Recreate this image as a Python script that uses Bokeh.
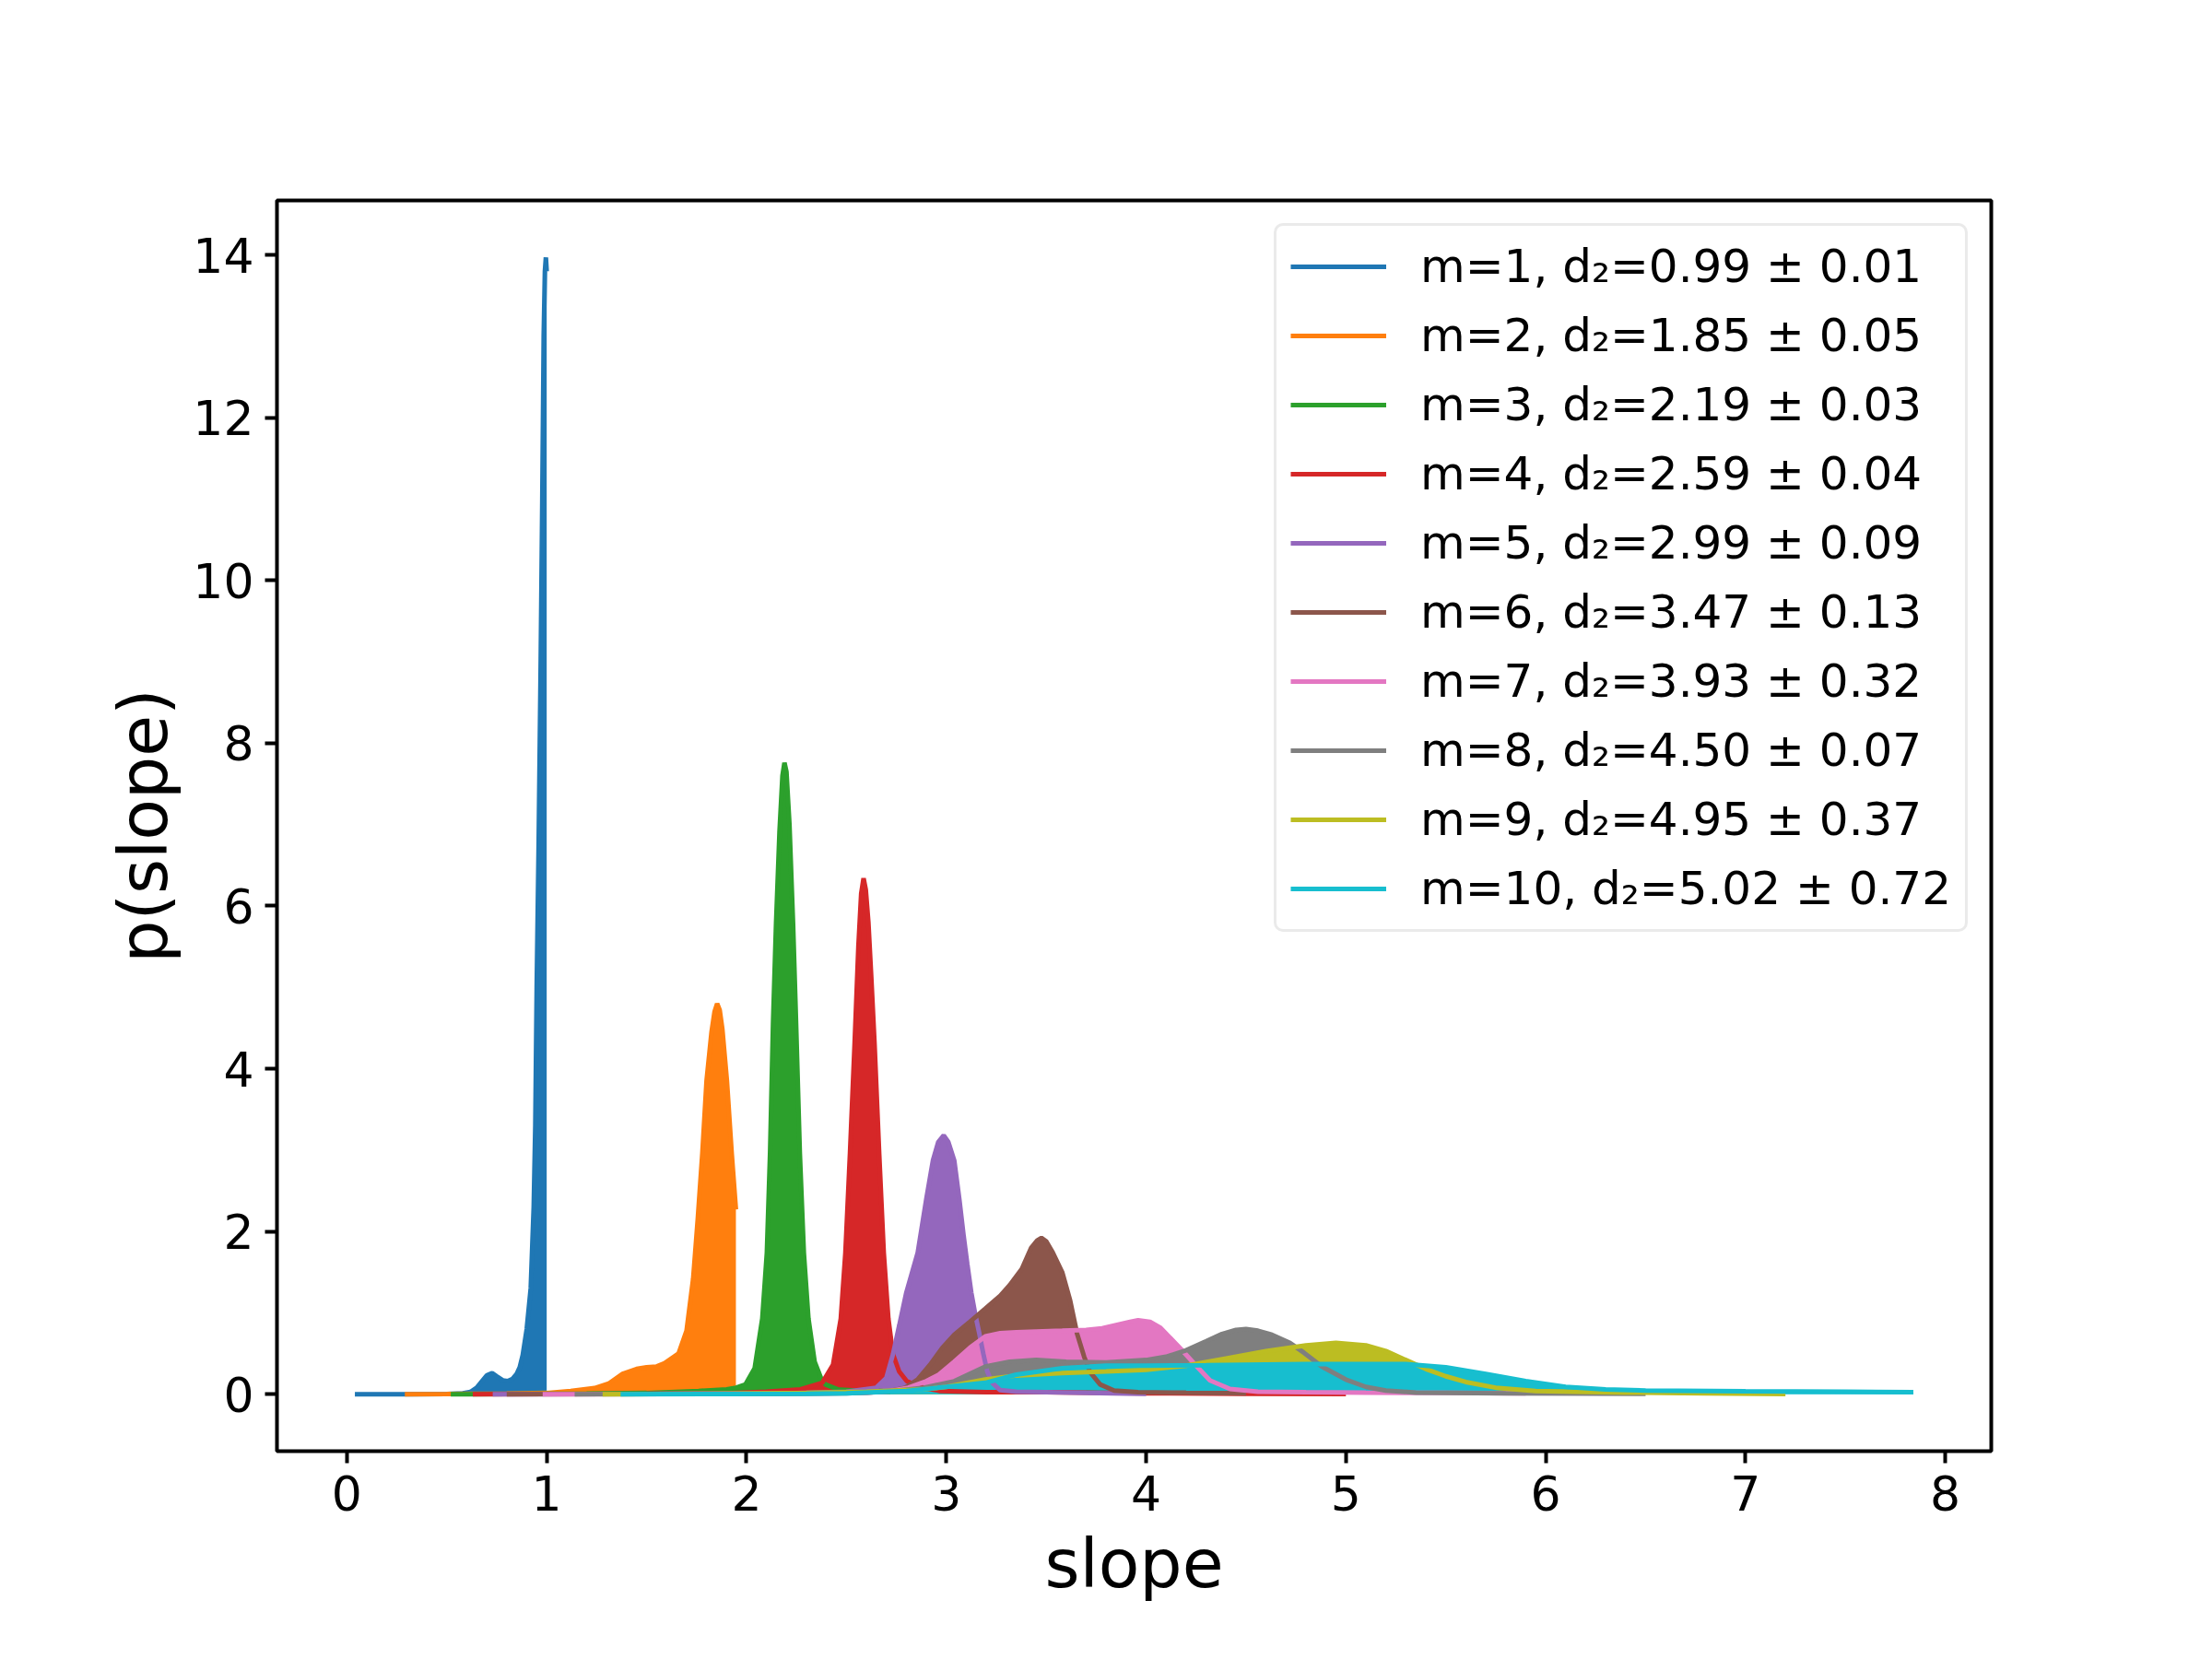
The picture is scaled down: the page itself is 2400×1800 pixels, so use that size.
from bokeh.plotting import figure
from bokeh.models import Range1d, FixedTicker
from bokeh.embed import file_html
from bokeh.resources import INLINE

# ---- data (slope, p(slope)) ----
x_m1 = [0.04, 0.30, 0.50, 0.58, 0.62, 0.65, 0.68, 0.70, 0.727, 0.75, 0.78, 0.805, 0.83, 0.85, 0.865, 0.88, 0.90, 0.92, 0.935, 0.943, 0.95, 0.96, 0.97, 0.978, 0.985, 0.991, 0.996, 1.0]
y_m1 = [0.0, 0.0, 0.002, 0.01, 0.03, 0.08, 0.17, 0.23, 0.26, 0.22, 0.17, 0.16, 0.19, 0.25, 0.33, 0.48, 0.8, 1.3, 2.3, 3.3, 5.0, 6.8, 9.0, 11.0, 13.0, 13.8, 13.97, 13.8]

x_m2 = [0.29, 0.50, 0.80, 1.00, 1.12, 1.24, 1.31, 1.38, 1.45, 1.50, 1.55, 1.59, 1.66, 1.70, 1.733, 1.756, 1.779, 1.80, 1.825, 1.84, 1.853, 1.866, 1.879, 1.902, 1.926, 1.947]
y_m2 = [0.0, 0.002, 0.008, 0.015, 0.04, 0.075, 0.13, 0.25, 0.31, 0.33, 0.34, 0.38, 0.5, 0.78, 1.42, 2.15, 2.96, 3.85, 4.45, 4.7, 4.80, 4.72, 4.49, 3.85, 2.96, 2.27]

x_m3 = [0.52, 0.80, 1.20, 1.50, 1.76, 1.90, 1.948, 1.995, 2.041, 2.079, 2.102, 2.118, 2.133, 2.148, 2.165, 2.18, 2.19, 2.20, 2.215, 2.233, 2.248, 2.267, 2.287, 2.31, 2.341, 2.379, 2.395, 2.456, 2.579, 2.67, 2.72]
y_m3 = [0.0, 0.002, 0.008, 0.015, 0.04, 0.06, 0.08, 0.12, 0.32, 0.93, 1.74, 2.96, 4.57, 5.79, 6.9, 7.6, 7.76, 7.65, 7.0, 5.79, 4.57, 2.96, 1.74, 0.93, 0.40, 0.16, 0.12, 0.06, 0.04, 0.04, 0.03]

x_m4 = [0.63, 1.00, 1.50, 1.90, 2.10, 2.27, 2.379, 2.433, 2.472, 2.495, 2.518, 2.541, 2.56, 2.574, 2.586, 2.597, 2.61, 2.625, 2.641, 2.664, 2.687, 2.71, 2.733, 2.764, 2.802, 2.84, 2.90, 2.97, 3.20, 3.50, 4.00, 4.50, 5.00]
y_m4 = [0.0, 0.002, 0.005, 0.01, 0.03, 0.06, 0.14, 0.36, 0.93, 1.74, 2.96, 4.3, 5.5, 6.15, 6.34, 6.2, 5.8, 5.1, 4.3, 2.96, 1.74, 0.93, 0.49, 0.28, 0.16, 0.12, 0.07, 0.04, 0.026, 0.025, 0.012, 0.006, 0.003]

x_m5 = [0.73, 1.2, 1.8, 2.2, 2.5, 2.65, 2.70, 2.733, 2.765, 2.80, 2.857, 2.90, 2.933, 2.96, 2.987, 3.01, 3.04, 3.065, 3.087, 3.105, 3.125, 3.145, 3.165, 3.185, 3.205, 3.23, 3.27, 3.35, 3.50, 3.70, 3.90, 4.00]
y_m5 = [0.0, 0.002, 0.005, 0.01, 0.03, 0.08, 0.2, 0.49, 0.85, 1.25, 1.74, 2.4, 2.87, 3.1, 3.18, 3.1, 2.87, 2.4, 1.94, 1.6, 1.25, 0.98, 0.75, 0.5, 0.28, 0.14, 0.05, 0.03, 0.025, 0.015, 0.008, 0.005]

x_m6 = [0.80, 1.3, 1.9, 2.3, 2.6, 2.72, 2.795, 2.856, 2.918, 2.98, 3.04, 3.118, 3.195, 3.27, 3.317, 3.378, 3.425, 3.455, 3.476, 3.50, 3.533, 3.58, 3.62, 3.655, 3.69, 3.72, 3.77, 3.84, 3.96, 4.20, 4.50]
y_m6 = [0.0, 0.002, 0.005, 0.01, 0.02, 0.04, 0.08, 0.18, 0.36, 0.57, 0.73, 0.89, 1.05, 1.21, 1.34, 1.54, 1.80, 1.89, 1.92, 1.88, 1.74, 1.50, 1.15, 0.74, 0.46, 0.27, 0.12, 0.045, 0.026, 0.018, 0.01]

x_m7 = [0.98, 1.5, 2.0, 2.4, 2.6, 2.72, 2.81, 2.90, 2.963, 3.04, 3.118, 3.195, 3.27, 3.35, 3.45, 3.58, 3.70, 3.78, 3.85, 3.92, 3.96, 4.02, 4.07, 4.11, 4.18, 4.25, 4.32, 4.42, 4.56, 4.80, 5.10, 5.50, 5.90]
y_m7 = [0.0, 0.002, 0.005, 0.01, 0.02, 0.04, 0.08, 0.16, 0.24, 0.40, 0.57, 0.71, 0.75, 0.76, 0.77, 0.78, 0.79, 0.81, 0.85, 0.89, 0.91, 0.89, 0.82, 0.72, 0.54, 0.35, 0.17, 0.065, 0.03, 0.025, 0.02, 0.015, 0.01]

x_m8 = [1.14, 1.6, 2.1, 2.5, 2.7, 2.887, 3.04, 3.195, 3.317, 3.45, 3.6, 3.8, 4.0, 4.1, 4.2, 4.3, 4.38, 4.45, 4.5, 4.56, 4.63, 4.72, 4.79, 4.88, 5.0, 5.1, 5.2, 5.35, 5.8, 6.2, 6.5]
y_m8 = [0.0, 0.002, 0.005, 0.01, 0.03, 0.08, 0.16, 0.34, 0.40, 0.42, 0.40, 0.39, 0.42, 0.46, 0.54, 0.65, 0.74, 0.79, 0.80, 0.78, 0.73, 0.63, 0.51, 0.34, 0.18, 0.09, 0.045, 0.02, 0.01, 0.007, 0.005]

x_m9 = [1.28, 1.8, 2.3, 2.6, 2.887, 3.0, 3.195, 3.35, 3.58, 3.8, 4.0, 4.2, 4.4, 4.6, 4.8, 4.95, 5.1, 5.2, 5.3, 5.4, 5.5, 5.6, 5.75, 5.95, 6.4, 6.8, 7.2]
y_m9 = [0.0, 0.005, 0.015, 0.03, 0.06, 0.09, 0.18, 0.23, 0.26, 0.28, 0.30, 0.35, 0.44, 0.53, 0.60, 0.63, 0.60, 0.53, 0.42, 0.31, 0.22, 0.15, 0.08, 0.04, 0.02, 0.01, 0.003]

x_m10 = [1.37, 1.9, 2.3, 2.5, 2.8, 3.0, 3.195, 3.35, 3.58, 3.8, 4.0, 4.3, 4.8, 5.3, 5.5, 5.7, 5.9, 6.1, 6.3, 6.5, 7.0, 7.5, 7.84]
y_m10 = [0.0, 0.003, 0.006, 0.01, 0.04, 0.09, 0.14, 0.24, 0.32, 0.35, 0.35, 0.355, 0.37, 0.37, 0.33, 0.25, 0.16, 0.09, 0.06, 0.045, 0.035, 0.03, 0.025]

labels = ["m=1, d\u2082=0.99 \u00b1 0.01", "m=2, d\u2082=1.85 \u00b1 0.05", "m=3, d\u2082=2.19 \u00b1 0.03",
          "m=4, d\u2082=2.59 \u00b1 0.04", "m=5, d\u2082=2.99 \u00b1 0.09", "m=6, d\u2082=3.47 \u00b1 0.13",
          "m=7, d\u2082=3.93 \u00b1 0.32", "m=8, d\u2082=4.50 \u00b1 0.07", "m=9, d\u2082=4.95 \u00b1 0.37",
          "m=10, d\u2082=5.02 \u00b1 0.72"]
colors = ["#1f77b4", "#ff7f0e", "#2ca02c", "#d62728", "#9467bd",
          "#8c564b", "#e377c2", "#7f7f7f", "#bcbd22", "#17becf"]
x_ticks = [0, 1, 2, 3, 4, 5, 6, 7, 8]
y_ticks = [0, 2, 4, 6, 8, 10, 12, 14]

xs = [x_m1, x_m2, x_m3, x_m4, x_m5, x_m6, x_m7, x_m8, x_m9, x_m10]
ys = [y_m1, y_m2, y_m3, y_m4, y_m5, y_m6, y_m7, y_m8, y_m9, y_m10]

FONT = "DejaVu Sans"

p = figure(frame_width=1860, frame_height=1357,
           min_border_left=300, min_border_right=224,
           min_border_top=217, min_border_bottom=210,
           x_range=Range1d(-0.35, 8.23), y_range=Range1d(-0.70, 14.67),
           output_backend="svg", toolbar_location=None)

p.background_fill_color = "white"
p.border_fill_color = "white"
p.grid.visible = False
p.outline_line_color = "black"
p.outline_line_width = 4

# fills first (beneath), then lines on top
for x, y, c in zip(xs, ys, colors):
    p.varea(x=x, y1=[0.0] * len(y), y2=y, fill_color=c, fill_alpha=1.0)
for x, y, c, lab in zip(xs, ys, colors, labels):
    p.line(x=x, y=y, line_color=c, line_width=5, legend_label=lab)

for ax in (p.xaxis, p.yaxis):
    ax.axis_line_color = None
    ax.major_tick_line_width = 4
    ax.major_tick_line_color = "black"
    ax.major_tick_out = 13
    ax.major_tick_in = 0
    ax.minor_tick_line_color = None
    ax.major_label_text_font = FONT
    ax.major_label_text_font_size = "52px"
    ax.major_label_text_color = "black"
    ax.axis_label_text_font = FONT
    ax.axis_label_text_font_size = "73px"
    ax.axis_label_text_font_style = "normal"
    ax.axis_label_text_color = "black"

p.xaxis.major_label_standoff = 13
p.xaxis.axis_label_standoff = 12
p.yaxis.major_label_standoff = 12
p.yaxis.axis_label_standoff = 8

p.xaxis.ticker = FixedTicker(ticks=x_ticks)
p.yaxis.ticker = FixedTicker(ticks=y_ticks)
p.xaxis.axis_label = "slope"
p.yaxis.axis_label = "p(slope)"

lg = p.legend[0]
lg.location = "top_right"
lg.margin = 25
lg.padding = 15
lg.spacing = 17
lg.label_standoff = 37
lg.glyph_width = 104
lg.glyph_height = 30
lg.label_text_font = FONT
lg.label_text_font_size = "50px"
lg.label_text_color = "black"
lg.border_line_color = "#d5d5d5"
lg.border_line_width = 3
lg.background_fill_color = "white"
lg.background_fill_alpha = 0.8
try:
    lg.border_radius = 10
except Exception:
    pass

open("out.html", "w").write(file_html(p, INLINE))
